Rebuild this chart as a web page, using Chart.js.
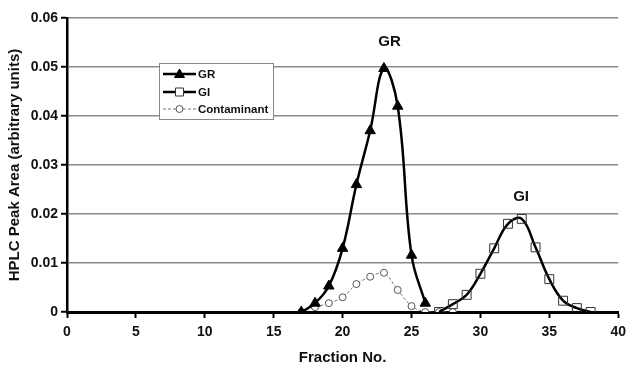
<!DOCTYPE html>
<html>
<head>
<meta charset="utf-8">
<script src="https://cdn.jsdelivr.net/npm/chart.js@4"></script>
<style>
  html, body { margin: 0; padding: 0; background: #fff; }
  #wrap { width: 632px; height: 367px; }
</style>
</head>
<body>
<div id="wrap"><canvas id="myChart" width="632" height="367"></canvas></div>
<script>
// fraction numbers and peak areas
let grFractions = [17, 18, 19, 20, 21, 22, 23, 24, 25, 26];
let grValues = [0, 0.0018, 0.0053, 0.013, 0.026, 0.037, 0.0497, 0.042, 0.0116, 0.0018];

let giFractions = [27, 28, 29, 30, 31, 32, 33, 34, 35, 36, 37, 38];
let giValues = [0, 0.0016, 0.0035, 0.0078, 0.013, 0.018, 0.019, 0.0132, 0.0067, 0.0023, 0.0008, 0];

let contFractions = [17, 18, 19, 20, 21, 22, 23, 24, 25, 26, 27, 28];
let contValues = [0, 0.001, 0.0018, 0.003, 0.0057, 0.0072, 0.008, 0.0045, 0.0012, 0, 0, 0];

let xTicks = [0, 5, 10, 15, 20, 25, 30, 35, 40];
let yTicks = [0, 0.01, 0.02, 0.03, 0.04, 0.05, 0.06];

// peak labels placed in data coordinates
let peakLabels = [
    { text: 'GR', x: 23.4, y: 0.0551 },
    { text: 'GI', x: 32.95, y: 0.0236 }
];

const FONT = '"Liberation Sans", Arial, sans-serif';

function toPoints(xs, ys) {
    return xs.map((x, i) => ({ x: x, y: ys[i] }));
}

//draws the peak labels and the boxed legend inside the plot
const extras = {
    id: 'extras',
    afterDatasetsDraw(chart) {
        const ctx = chart.ctx;
        const xs = chart.scales.x, ys = chart.scales.y;
        ctx.save();
        ctx.fillStyle = '#111';
        ctx.font = 'bold 15px ' + FONT;
        ctx.textAlign = 'center';
        ctx.textBaseline = 'middle';
        peakLabels.forEach(l => {
            ctx.fillText(l.text, xs.getPixelForValue(l.x), ys.getPixelForValue(l.y));
        });

        // legend box
        const bx = 159, by = 63, bw = 114, bh = 56;
        ctx.fillStyle = '#fff';
        ctx.fillRect(bx, by, bw, bh);
        ctx.strokeStyle = '#888';
        ctx.lineWidth = 1;
        ctx.strokeRect(bx + 0.5, by + 0.5, bw, bh);

        const rows = [74, 92, 109];
        chart.data.datasets.forEach((ds, i) => {
            const y = rows[i];
            ctx.save();
            ctx.strokeStyle = ds.borderColor;
            ctx.lineWidth = ds.borderWidth;
            ctx.setLineDash(ds.borderDash || []);
            ctx.beginPath();
            ctx.moveTo(163, y);
            ctx.lineTo(196, y);
            ctx.stroke();
            ctx.restore();

            ctx.fillStyle = ds.pointStyle === 'rect' ? '#fff' : ds.pointBackgroundColor;
            ctx.strokeStyle = ds.pointBorderColor;
            ctx.lineWidth = ds.pointBorderWidth;
            ctx.beginPath();
            if (ds.pointStyle === 'triangle') {
                ctx.moveTo(179.5, y - 5); ctx.lineTo(184.5, y + 3.5); ctx.lineTo(174.5, y + 3.5); ctx.closePath();
            } else if (ds.pointStyle === 'rect') {
                ctx.rect(175.5, y - 4, 8, 8);
            } else {
                ctx.arc(179.5, y, ds.pointRadius, 0, Math.PI * 2);
            }
            ctx.fill();
            ctx.stroke();

            ctx.fillStyle = '#111';
            ctx.font = 'bold 11.5px ' + FONT;
            ctx.textAlign = 'left';
            ctx.textBaseline = 'middle';
            ctx.fillText(ds.label, 198, y + 1);
        });
        ctx.restore();
    }
};

const data = {
    datasets: [{
        label: 'GR',
        data: toPoints(grFractions, grValues),
        borderColor: '#000',
        borderWidth: 2.5,
        tension: 0.4,
        pointStyle: 'triangle',
        pointRadius: 6,
        pointBackgroundColor: '#000',
        pointBorderColor: '#000',
        pointBorderWidth: 1
    }, {
        label: 'GI',
        data: toPoints(giFractions, giValues),
        borderColor: '#000',
        borderWidth: 2.5,
        tension: 0.4,
        pointStyle: 'rect',
        pointRadius: 6.3,
        pointBackgroundColor: 'rgba(255,255,255,0)',
        pointBorderColor: '#333',
        pointBorderWidth: 1
    }, {
        label: 'Contaminant',
        data: toPoints(contFractions, contValues),
        borderColor: '#777',
        borderWidth: 1,
        borderDash: [3, 2],
        tension: 0.3,
        pointStyle: 'circle',
        pointRadius: 3.5,
        pointBackgroundColor: '#fff',
        pointBorderColor: '#555',
        pointBorderWidth: 1
    }]
};

const config = {
    type: 'line',
    data: data,
    options: {
        responsive: false,
        animation: false,
        layout: { padding: { top: 18, right: 10, left: 0, bottom: 0 } },
        plugins: {
            legend: { display: false },
            tooltip: { enabled: false }
        },
        scales: {
            x: {
                type: 'linear',
                min: 0,
                max: 40,
                afterBuildTicks: (s) => { s.ticks = xTicks.map(v => ({ value: v })); },
                afterFit: (s) => { s.height = 55; },
                grid: { drawOnChartArea: false, tickLength: 6, tickColor: '#000', tickWidth: 2 },
                border: { color: '#000', width: 3 },
                ticks: { color: '#111', font: { family: FONT, size: 14, weight: 'bold' }, padding: 6, maxRotation: 0 },
                title: { display: true, text: 'Fraction No.', color: '#111', font: { family: FONT, size: 15, weight: 'bold' }, padding: { top: 0, bottom: 0 } }
            },
            y: {
                min: 0,
                max: 0.06,
                afterBuildTicks: (s) => { s.ticks = yTicks.map(v => ({ value: v })); },
                afterFit: (s) => { s.width = 67; },
                grid: { color: '#8a8a8a', lineWidth: 1.5, tickLength: 6, tickColor: '#000', tickWidth: 2 },
                border: { color: '#000', width: 2.5 },
                ticks: {
                    color: '#111',
                    font: { family: FONT, size: 14, weight: 'bold' },
                    padding: 3,
                    callback: (v) => v === 0 ? '0' : v.toFixed(2)
                },
                title: { display: true, text: 'HPLC Peak Area (arbitrary units)', color: '#111', font: { family: FONT, size: 15, weight: 'bold' }, padding: { top: 6, bottom: 0 } }
            }
        }
    },
    plugins: [extras]
};

const myChart = new Chart(document.getElementById('myChart'), config);
</script>
</body>
</html>
